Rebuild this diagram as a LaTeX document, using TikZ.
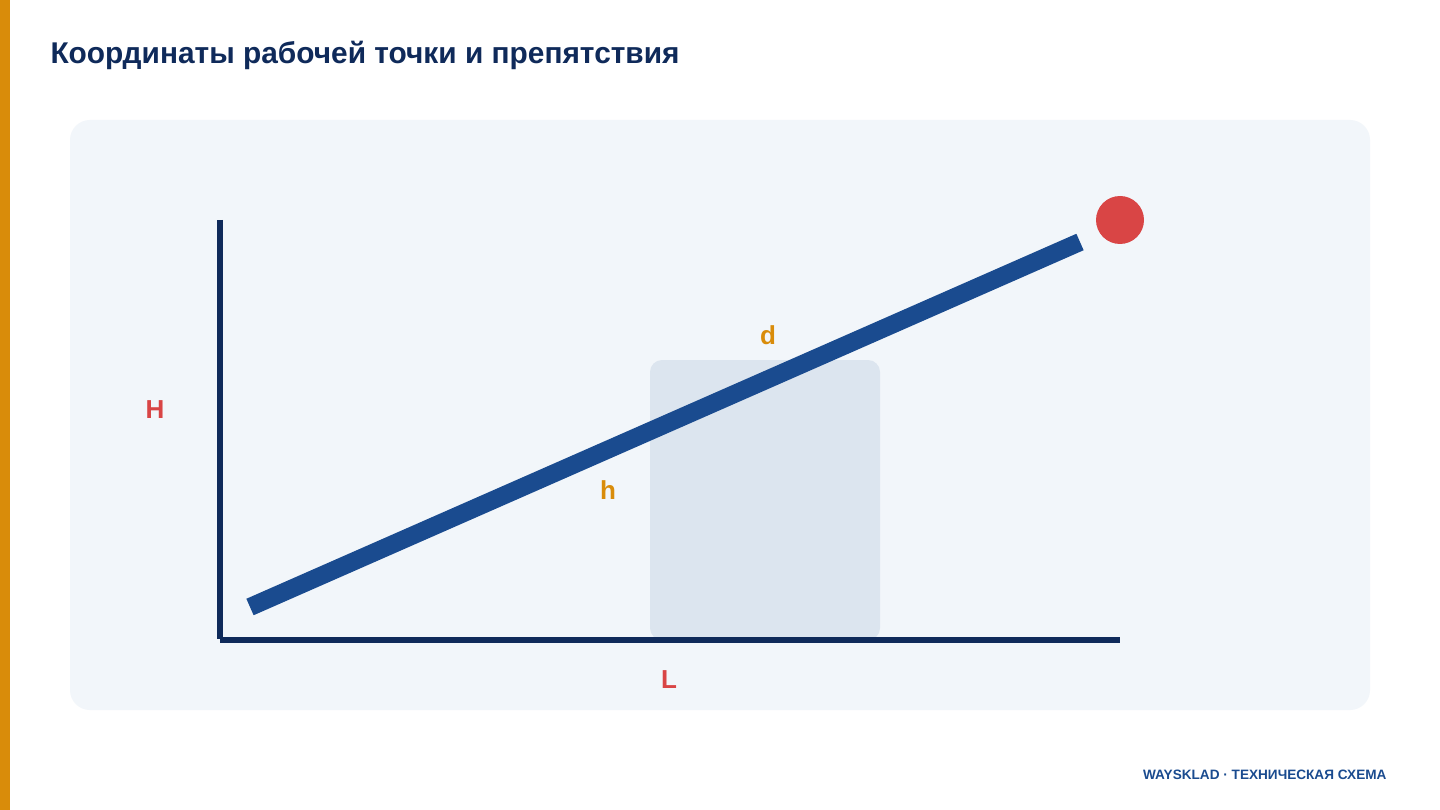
\documentclass[tikz,border=0pt]{standalone}
\usepackage{fontspec}
\setmainfont{Liberation Sans}
\definecolor{navy}{HTML}{0F2A5A}
\definecolor{beam}{HTML}{1A4B8F}
\definecolor{accent}{HTML}{D98C0A}
\definecolor{alert}{HTML}{D94545}
\definecolor{panel}{HTML}{F2F6FA}
\definecolor{block}{HTML}{DCE5EF}
\tikzset{
	lbl/.style={font=\fontsize{26}{30}\selectfont\bfseries, anchor=center},
}
\begin{document}
\begin{tikzpicture}[x=1pt, y=-1pt]
\useasboundingbox (0, 0) rectangle (1440, 810);
\fill[white] (0, 0) rectangle (1440, 810);
\fill[accent] (0, 0) rectangle (10, 810);

\node[anchor=base west, text=navy, font=\fontsize{30}{34}\selectfont\bfseries, xscale=0.995] (title) at (47, 64) {Координаты рабочей точки и препятствия};

\fill[panel, rounded corners=20] (70, 120) rectangle (1370, 710);
\fill[block, rounded corners=12] (650, 360) rectangle (880, 640);

% axes
\draw[navy, line width=5.5] (220, 220) -- (220, 639);
\draw[navy, line width=5.5] (220, 640) -- (1120, 640);

% beam and working point
\draw[beam, line width=18] (250, 607) -- (1080, 242);
\fill[alert] (1120, 220) circle[radius=24];

\node[lbl, text=alert] (H) at (155, 410) {H};
\node[lbl, text=alert] (L) at (669, 680) {L};
\node[lbl, text=accent] (d) at (768, 335) {d};
\node[lbl, text=accent] (h) at (608, 490) {h};

\node[anchor=base east, text=beam, font=\fontsize{13.6}{15}\selectfont\bfseries] (footer) at (1390, 779) {WAYSKLAD · ТЕХНИЧЕСКАЯ СХЕМА};
\end{tikzpicture}
\end{document}
